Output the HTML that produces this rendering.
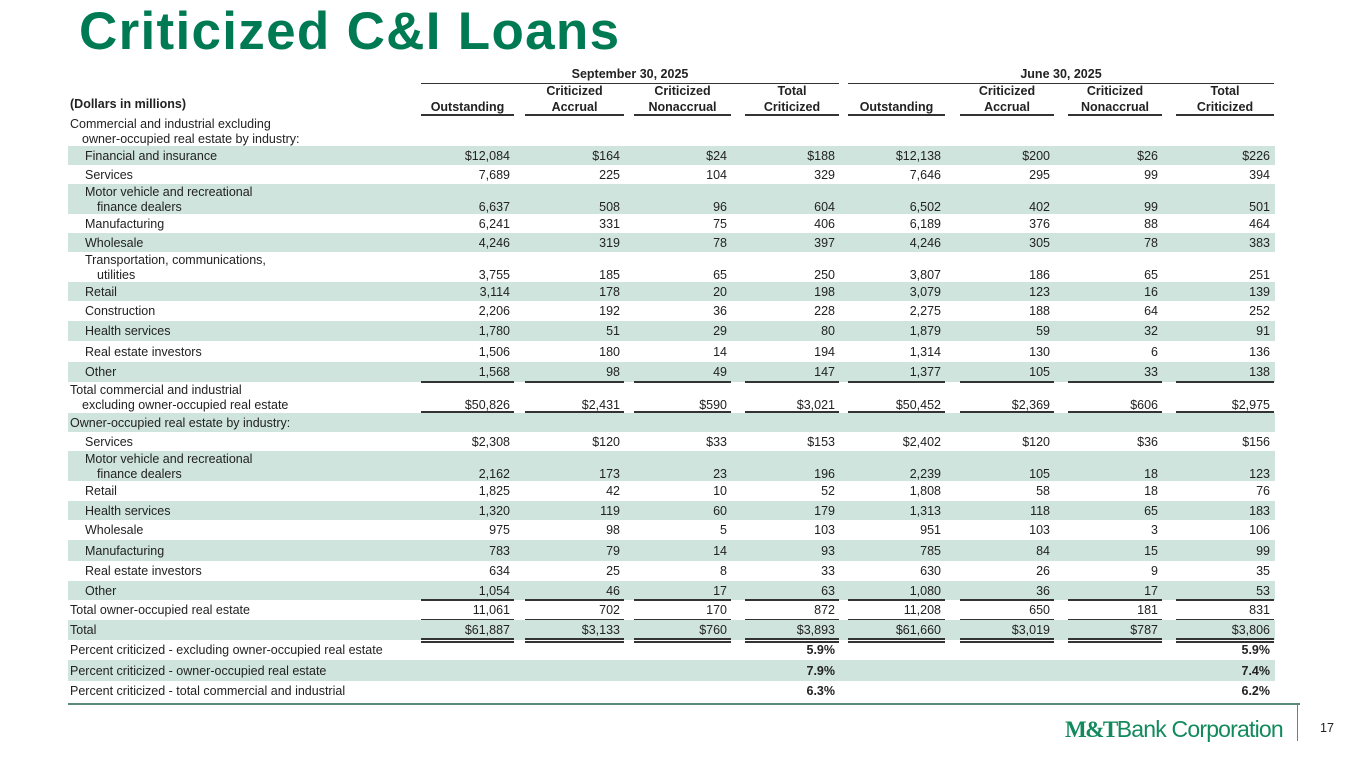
<!DOCTYPE html>
<html><head><meta charset="utf-8"><style>
body{margin:0;width:1365px;height:768px;background:#fff;position:relative;overflow:hidden;font-family:"Liberation Sans",Arial,sans-serif;color:#222}
.a{position:absolute;white-space:nowrap}
.t{font-size:12.5px;line-height:14px}
.b{font-weight:bold}
.r{text-align:right}
.bg{position:absolute;left:68px;width:1207px;background:#d0e4de}
.ln{position:absolute;height:2px;background:#333}
</style></head><body>
<div class="a b" style="left:79px;top:2px;font-size:53px;line-height:60px;color:#007a53;letter-spacing:1.3px">Criticized C&amp;I Loans</div>
<div id="tbl"></div>
<div class="a" style="left:68px;top:703px;width:1232px;height:2px;background:#5a8a78"></div>
<div class="a" style="left:1297px;top:705px;width:1px;height:36px;background:#5a8a78"></div>
<div class="a" style="left:1065px;top:714px;font-size:23px;line-height:30px;color:#138a5e;letter-spacing:-0.8px"><span style="font-family:'Liberation Serif',serif;font-weight:bold;letter-spacing:-1.5px">M&amp;T</span><span style="font-weight:300">Bank Corporation</span></div>
<div class="a t" style="left:1320px;top:721px">17</div>
<script>
const cols=[[421,514],[525,624],[634,731],[745,839],[848,945],[960,1054],[1068,1162],[1176,1274]];
const periods=['September 30, 2025','June 30, 2025'];
const heads=[['','Outstanding'],['Criticized','Accrual'],['Criticized','Nonaccrual'],['Total','Criticized']];
const rows=[
[['Commercial and industrial excluding','owner-occupied real estate by industry:'],0,116,30,0,null,''],
[['Financial and insurance'],1,146,19,1,['$12,084','$164','$24','$188','$12,138','$200','$26','$226'],''],
[['Services'],1,165,19,0,['7,689','225','104','329','7,646','295','99','394'],''],
[['Motor vehicle and recreational','finance dealers'],1,184,30,1,['6,637','508','96','604','6,502','402','99','501'],''],
[['Manufacturing'],1,214,19,0,['6,241','331','75','406','6,189','376','88','464'],''],
[['Wholesale'],1,233,19,1,['4,246','319','78','397','4,246','305','78','383'],''],
[['Transportation, communications,','utilities'],1,252,30,0,['3,755','185','65','250','3,807','186','65','251'],''],
[['Retail'],1,282,19,1,['3,114','178','20','198','3,079','123','16','139'],''],
[['Construction'],1,301,20,0,['2,206','192','36','228','2,275','188','64','252'],''],
[['Health services'],1,321,20,1,['1,780','51','29','80','1,879','59','32','91'],''],
[['Real estate investors'],1,341,21,0,['1,506','180','14','194','1,314','130','6','136'],''],
[['Other'],1,362,20,1,['1,568','98','49','147','1,377','105','33','138'],'s'],
[['Total commercial and industrial','excluding owner-occupied real estate'],0,382,31,0,['$50,826','$2,431','$590','$3,021','$50,452','$2,369','$606','$2,975'],'d'],
[['Owner-occupied real estate by industry:'],0,413,19,1,null,''],
[['Services'],1,432,19,0,['$2,308','$120','$33','$153','$2,402','$120','$36','$156'],''],
[['Motor vehicle and recreational','finance dealers'],1,451,30,1,['2,162','173','23','196','2,239','105','18','123'],''],
[['Retail'],1,481,20,0,['1,825','42','10','52','1,808','58','18','76'],''],
[['Health services'],1,501,19,1,['1,320','119','60','179','1,313','118','65','183'],''],
[['Wholesale'],1,520,20,0,['975','98','5','103','951','103','3','106'],''],
[['Manufacturing'],1,540,21,1,['783','79','14','93','785','84','15','99'],''],
[['Real estate investors'],1,561,20,0,['634','25','8','33','630','26','9','35'],''],
[['Other'],1,581,19,1,['1,054','46','17','63','1,080','36','17','53'],'s'],
[['Total owner-occupied real estate'],0,600,20,0,['11,061','702','170','872','11,208','650','181','831'],'s'],
[['Total'],0,620,20,1,['$61,887','$3,133','$760','$3,893','$61,660','$3,019','$787','$3,806'],'d'],
[['Percent criticized - excluding owner-occupied real estate'],0,640,20,0,['','','','5.9%','','','','5.9%'],'p'],
[['Percent criticized - owner-occupied real estate'],0,660,21,1,['','','','7.9%','','','','7.4%'],'p'],
[['Percent criticized - total commercial and industrial'],0,681,20,0,['','','','6.3%','','','','6.2%'],'p']
];
const T=document.getElementById('tbl');
function add(cls,st,txt){const d=document.createElement('div');d.className=cls;d.style.cssText=st;if(txt!==undefined)d.textContent=txt;T.appendChild(d);return d;}
periods.forEach((p,i)=>{const c0=cols[i*4][0],c1=cols[i*4+3][1];
const e=add('a t b',`left:${c0}px;width:${c1-c0}px;top:67px;text-align:center`,p);


const l=add('ln',`left:${c0}px;width:${c1-c0}px;top:83px;height:1px`);

});
const u=add('a t b','left:70px;top:97px','(Dollars in millions)');


cols.forEach((c,i)=>{const h=heads[i%4];
const e=add('a t b',`left:${c[0]}px;width:${c[1]-c[0]}px;top:84px;text-align:center;line-height:15.5px`,'');
e.innerHTML=(h[0]||'&nbsp;')+'<br>'+h[1];


const l=add('ln',`left:${c[0]}px;width:${c[1]-c[0]}px;top:114px`);

});
rows.forEach(r=>{const [lab,ind,top,h,bg,vals,rule]=r;
if(bg){const b=add('bg',`top:${top}px;height:${h}px`);

}
const two=lab.length>1;const ty=two?top+1:top+(h-14)/2;
const L=add('a t',`left:${ind?85:70}px;top:${ty}px;line-height:${two?15:14}px`,'');
L.innerHTML=lab[0]+(two?'<br><span style="padding-left:12px">'+lab[1]+'</span>':'');


if(vals){const vy=two?top+16:ty;
vals.forEach((v,i)=>{const c=cols[i];
if(v){const e=add('a t r'+(rule==='p'?' b':''),`left:${c[0]}px;width:${c[1]-c[0]-4}px;top:${vy}px`,v);

}
if(rule==='s'){const l=add('ln',`left:${c[0]}px;width:${c[1]-c[0]}px;top:${top+h-1}px`);

}
if(rule==='d'){const l=add('ln',`left:${c[0]}px;width:${c[1]-c[0]}px;top:${top+h-2}px;height:1.5px`);


const l2=add('ln',`left:${c[0]}px;width:${c[1]-c[0]}px;top:${top+h+1}px;height:1.5px`);

}
});}
});
</script>
</body></html>
